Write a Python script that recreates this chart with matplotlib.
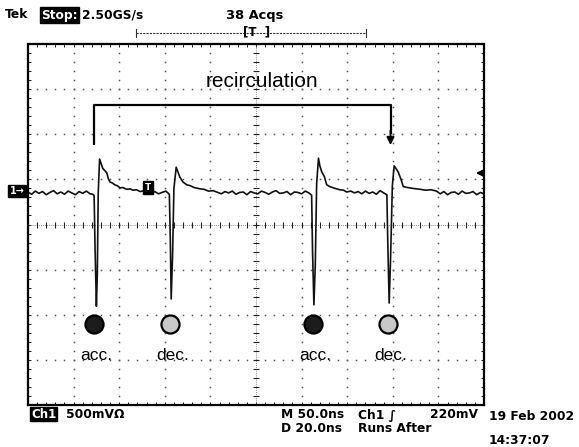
import numpy as np
import matplotlib
matplotlib.use("Agg")
import matplotlib.pyplot as plt

# --- scope settings (from the readout) ---
NS_PER_DIV = 50.0
MV_PER_DIV = 500.0
GROUND_DIV = 0.70        # ground marker, divisions above centre
TRIG_MV = 220

# --- trace (time in ns, volts in mV rel. to ground) ---
t_ns = [0, 4, 8, 12, 16, 20, 24, 28, 32, 36, 40, 44, 48, 52, 56, 60, 64, 68, 71,
        72.5, 73.5, 75, 76, 77, 78.5, 80, 82, 84, 86.5, 88, 90, 92.5, 95, 98, 101,
        104, 108, 112, 115, 119, 123, 127, 131,
        135, 139, 143, 147, 151, 154,
        155, 156, 157, 158.5, 160, 162.5, 164.5, 166.5, 170, 174, 178, 182, 188.5,
        193, 198, 203, 208,
        212, 216, 220, 224, 228, 232, 236, 240, 244, 248, 252, 256, 260, 264, 268,
        272, 276, 280, 284, 288, 292, 296, 300, 304, 308,
        311, 312, 313.5, 315, 316.5, 318.5, 320, 322, 325, 327.5, 331, 335, 342,
        346, 349.5, 354, 358,
        362, 366, 370, 374, 378, 382, 386, 390,
        393.5, 394.5, 396, 397.5, 399.5, 401.5, 403.5, 406, 409, 411.5, 416, 422,
        430, 436, 442, 448,
        452, 456, 460, 464, 468, 472, 476, 480, 484, 488, 492, 496, 500]
v_mv = [10, -15, 20, -5, 15, -20, 5, 25, -10, 10, -15, 20, 0, -20, 15, -5, 20, -10, -15,
        -30, -600, -1255, -900, 0, 375, 330, 270, 250, 220, 160, 120, 110, 90, 80, 55,
        60, 40, 45, 30, 35, 15, 25, 10,
        -5, 15, -10, 5, 20, -5,
        -20, -500, -1175, -700, 50, 285, 230, 175, 120, 90, 80, 60, 45,
        40, 20, 25, 5,
        -10, 15, 0, 20, -15, 5, 10, -20, 15, 0, -10, 20, 5, -15, 10,
        25, -5, 0, 15, -20, 10, 5, -10, 20, 0,
        -25, -650, -1240, -800, 100, 385, 300, 235, 180, 90, 70, 55, 35,
        30, 10, 20, 0,
        15, -10, 20, -5, 10, -15, 25, 0,
        -20, -550, -1220, -750, 80, 300, 270, 230, 150, 70, 60, 50,
        40, 30, 35, 20,
        -10, 15, -20, 5, 10, -15, 20, -5, 0, 15, -20, 5, -10]

# pulse events (acc./dec.) and their time positions
event_t = [72, 155.5, 312.5, 394.5]
event_lbl = ["acc.", "dec.", "acc.", "dec."]
event_acc = [True, False, True, False]

# --- figure ---
W, H = 579, 447
fig = plt.figure(figsize=(W / 100, H / 100), dpi=100)
fig.patch.set_facecolor("white")

def fx(px): return px / W
def fy(py): return 1 - py / H

ax = fig.add_axes([fx(28), fy(405), 456 / W, 361 / H])
y0 = -GROUND_DIV * MV_PER_DIV          # centre line in mV
ax.set_xlim(0, 10 * NS_PER_DIV)
ax.set_ylim(y0 - 4 * MV_PER_DIV, y0 + 4 * MV_PER_DIV)

# graticule: dotted division lines
sub_x = np.arange(0, 10.001, 0.2) * NS_PER_DIV
sub_y = y0 + np.arange(-4, 4.001, 0.2) * MV_PER_DIV
for k in range(1, 10):
    if k == 5:
        continue
    ax.plot(np.full_like(sub_y, k * NS_PER_DIV), sub_y, ls="none", marker="s",
            ms=1.1, mew=0, color="#555555")
for k in range(-3, 4):
    if k == 0:
        continue
    ax.plot(sub_x, np.full_like(sub_x, y0 + k * MV_PER_DIV), ls="none", marker="s",
            ms=1.1, mew=0, color="#555555")
# centre cross with minor ticks
xc = 5 * NS_PER_DIV
ax.axvline(xc, color="#666666", lw=0.6, ls=(0, (1, 1.5)))
ax.axhline(y0, color="#666666", lw=0.6, ls=(0, (1, 1.5)))
ax.plot(np.full_like(sub_y, xc), sub_y, ls="none", marker="_", ms=4, mew=0.8, color="#222222")
ax.plot(sub_x, np.full_like(sub_x, y0), ls="none", marker="|", ms=4, mew=0.8, color="#222222")

# border ticks
ax.set_xticks(sub_x)
ax.set_yticks(sub_y)
ax.tick_params(direction="in", length=2.5, width=0.7, top=True, right=True,
               labelbottom=False, labelleft=False, colors="#222222")
for s in ax.spines.values():
    s.set_linewidth(1.6)
    s.set_color("black")

# trace
ax.plot(t_ns, v_mv, color="#111111", lw=1.2, solid_joinstyle="round")

# event circles and labels
y_circ = y0 - 2.2 * MV_PER_DIV
y_lbl = y0 - 2.9 * MV_PER_DIV
for t, lbl, acc in zip(event_t, event_lbl, event_acc):
    ax.plot([t], [y_circ], marker="o", ms=13, mew=1.6, mec="black",
            mfc="#1c1c1c" if acc else "#c8c8c8", zorder=5)
    ax.text(t + 3, y_lbl, lbl, ha="center", va="center", fontsize=12.5,
            family="Liberation Sans", color="black")

# recirculation bracket
yb = y0 + 2.65 * MV_PER_DIV
yb_end = y0 + 1.76 * MV_PER_DIV
ax.plot([event_t[0], event_t[0], event_t[3] + 3, event_t[3] + 3],
        [yb_end, yb, yb, yb_end + 120], color="black", lw=1.6, solid_capstyle="butt")
ax.annotate("", xy=(event_t[3] + 3, yb_end), xytext=(event_t[3] + 3, yb_end + 160),
            arrowprops=dict(arrowstyle="-|>", color="black", lw=1.4,
                            mutation_scale=11, shrinkA=0, shrinkB=0))
ax.text(257, y0 + 3.18 * MV_PER_DIV, "recirculation", ha="center", va="center",
        fontsize=15, family="Liberation Sans", color="black")

# trigger position marker on the trace
ax.text(131.5, 60, "T", ha="center", va="center", fontsize=6.5, weight="bold",
        color="white", bbox=dict(facecolor="black", edgecolor="black", pad=1.2))
# trigger level arrow at right edge
ax.annotate("", xy=(491, TRIG_MV), xytext=(500, TRIG_MV),
            arrowprops=dict(arrowstyle="-|>", color="black", lw=1.4,
                            mutation_scale=9, shrinkA=0, shrinkB=0))

# ground marker outside the left edge
fig.text(fx(17), fy(191), "1→", ha="center", va="center", fontsize=7, weight="bold",
         color="white", bbox=dict(facecolor="black", edgecolor="black", pad=1.0))

# --- top readout ---
tk = dict(fontsize=8.8, weight="bold", family="DejaVu Sans", color="black", va="center")
fig.text(fx(5), fy(15), "Tek", ha="left", **tk)
fig.text(fx(41), fy(15), "Stop:", ha="left", fontsize=8.8, weight="bold",
         color="white", va="center",
         bbox=dict(facecolor="black", edgecolor="black", pad=0.8))
fig.text(fx(82), fy(15), "2.50GS/s", ha="left", **tk)
fig.text(fx(226), fy(15), "38 Acqs", ha="left", fontsize=9.4, weight="bold",
         color="black", va="center")

# record bar
fig.add_artist(plt.Line2D([fx(136), fx(366)], [fy(33), fy(33)], color="#333333",
                          lw=0.8, ls=(0, (2, 1))))
for px in (136, 366):
    fig.add_artist(plt.Line2D([fx(px), fx(px)], [fy(29), fy(37)], color="#333333", lw=0.8))
fig.text(fx(257), fy(32), "[T  ]", ha="center", va="center", fontsize=8.5,
         weight="bold", color="black")

# --- bottom readout ---
fig.text(fx(31), fy(414), "Ch1", ha="left", fontsize=8.5, weight="bold", color="white",
         va="center", bbox=dict(facecolor="black", edgecolor="black", pad=0.6))
fig.text(fx(66), fy(414), "500mVΩ", ha="left", **tk)
fig.text(fx(281), fy(415), "M 50.0ns", ha="left", **tk)
fig.text(fx(358), fy(415), "Ch1 ∫", ha="left", **tk)
fig.text(fx(430), fy(415), f"{TRIG_MV}mV", ha="left", **tk)
fig.text(fx(281), fy(428), "D 20.0ns", ha="left", **tk)
fig.text(fx(358), fy(428), "Runs After", ha="left", **tk)
fig.text(fx(489), fy(417), "19 Feb 2002", ha="left", **tk)
fig.text(fx(489), fy(441), "14:37:07", ha="left", **tk)

fig.savefig("out.png", dpi=100, facecolor="white")
